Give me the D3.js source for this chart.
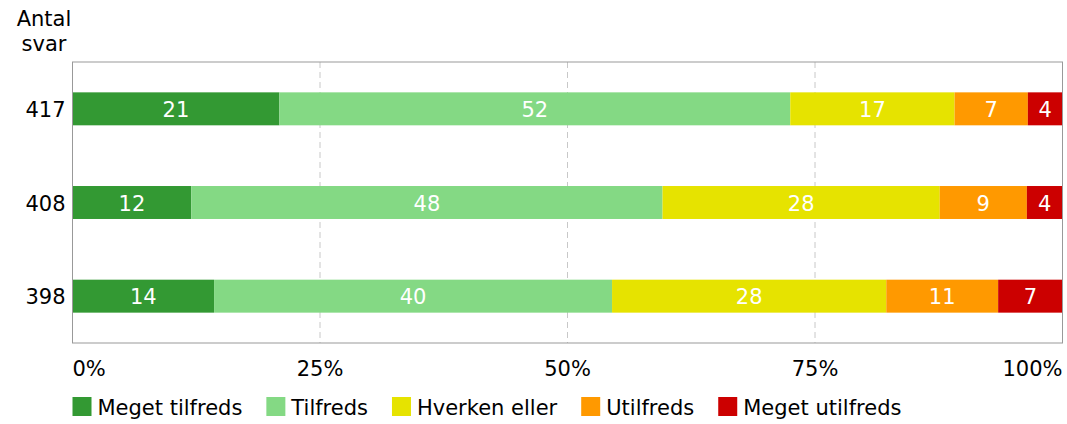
<!DOCTYPE html>
<html>
<head>
<meta charset="utf-8">
<script src="https://cdn.jsdelivr.net/npm/d3@7"></script>
<style>
  body { margin: 0; background: #fff; }
  text { font-family: "DejaVu Sans", Verdana, sans-serif; font-size: 21px; }
</style>
</head>
<body>
<div id="main"></div>
<script>
const ctx = {
    w: 1067,
    h: 424,
    left: 72.5,
    right: 1062.5,
    top: 62,
    bottom: 343,
};

// rows (number of answers) and response categories
const rows = ["417", "408", "398"];
const categories = ["Meget tilfreds", "Tilfreds", "Hverken eller", "Utilfreds", "Meget utilfreds"];
const colors = ["#339933", "#84d984", "#e6e300", "#ff9900", "#cc0000"];
const shares = [
    [20.9, 51.6, 16.6, 7.4, 3.5],
    [12.0, 47.6, 28.0, 8.8, 3.6],
    [14.3, 40.2, 27.7, 11.3, 6.5],
];
const labels = [
    [21, 52, 17, 7, 4],
    [12, 48, 28, 9, 4],
    [14, 40, 28, 11, 7],
];
const xTicks = [0, 25, 50, 75, 100];

function createViz(){
    let svgEl = d3.select("#main").append("svg")
        .attr("width", ctx.w)
        .attr("height", ctx.h);

    ctx.xScale = d3.scaleLinear().domain([0, 100]).range([ctx.left, ctx.right]);
    ctx.yScale = d3.scaleBand().domain(rows)
        .range([ctx.top, ctx.bottom])
        .paddingInner(0.648).paddingOuter(0.324);

    let bkgG = svgEl.append("g").attr("id", "bkgG");
    // dashed grid lines
    bkgG.selectAll("line.grid")
        .data(xTicks.slice(1, -1))
        .enter().append("line")
        .attr("x1", d => ctx.xScale(d)).attr("x2", d => ctx.xScale(d))
        .attr("y1", ctx.top).attr("y2", ctx.bottom)
        .attr("stroke", "#c8c8c8")
        .attr("stroke-width", 1)
        .attr("stroke-dasharray", "6,4");

    // bars
    let barsG = svgEl.append("g").attr("id", "barsG");
    rows.forEach((r, i) => {
        let acc = 0;
        let segs = shares[i].map((v, j) => {
            let s = {x0: acc, x1: acc + v, label: labels[i][j], color: colors[j]};
            acc += v;
            return s;
        });
        let rowG = barsG.append("g");
        rowG.selectAll("rect")
            .data(segs)
            .enter().append("rect")
            .attr("x", d => ctx.xScale(d.x0))
            .attr("width", d => ctx.xScale(d.x1) - ctx.xScale(d.x0))
            .attr("y", ctx.yScale(r))
            .attr("height", ctx.yScale.bandwidth())
            .attr("fill", d => d.color);
        rowG.selectAll("text")
            .data(segs)
            .enter().append("text")
            .attr("x", d => (ctx.xScale(d.x0) + ctx.xScale(d.x1)) / 2)
            .attr("y", ctx.yScale(r) + ctx.yScale.bandwidth() / 2 + 8)
            .attr("text-anchor", "middle")
            .attr("fill", "#fff")
            .text(d => d.label);
    });

    // plot frame
    svgEl.append("rect")
        .attr("x", ctx.left).attr("y", ctx.top)
        .attr("width", ctx.right - ctx.left).attr("height", ctx.bottom - ctx.top)
        .attr("fill", "none")
        .attr("stroke", "#999")
        .attr("stroke-width", 1);

    // y labels
    svgEl.append("g").selectAll("text")
        .data(rows)
        .enter().append("text")
        .attr("x", ctx.left - 7)
        .attr("y", d => ctx.yScale(d) + ctx.yScale.bandwidth() / 2 + 8)
        .attr("text-anchor", "end")
        .attr("fill", "#000")
        .text(d => d);

    // y title
    let yTitle = svgEl.append("text")
        .attr("text-anchor", "middle")
        .attr("fill", "#000");
    yTitle.append("tspan").attr("x", 44).attr("y", 26).text("Antal");
    yTitle.append("tspan").attr("x", 44).attr("y", 51).text("svar");

    // x tick labels
    svgEl.append("g").selectAll("text")
        .data(xTicks)
        .enter().append("text")
        .attr("x", d => ctx.xScale(d))
        .attr("y", 376)
        .attr("text-anchor", d => d === 0 ? "start" : (d === 100 ? "end" : "middle"))
        .attr("fill", "#000")
        .text(d => d + "%");

    // legend
    let legendG = svgEl.append("g").attr("id", "legendG");
    let lx = ctx.left;
    categories.forEach((c, j) => {
        legendG.append("rect")
            .attr("x", lx).attr("y", 397)
            .attr("width", 19).attr("height", 19)
            .attr("fill", colors[j]);
        let t = legendG.append("text")
            .attr("x", lx + 25).attr("y", 415)
            .attr("fill", "#000")
            .text(c);
        lx += 25 + t.node().getComputedTextLength() + 24;
    });
}

createViz();
</script>
</body>
</html>
